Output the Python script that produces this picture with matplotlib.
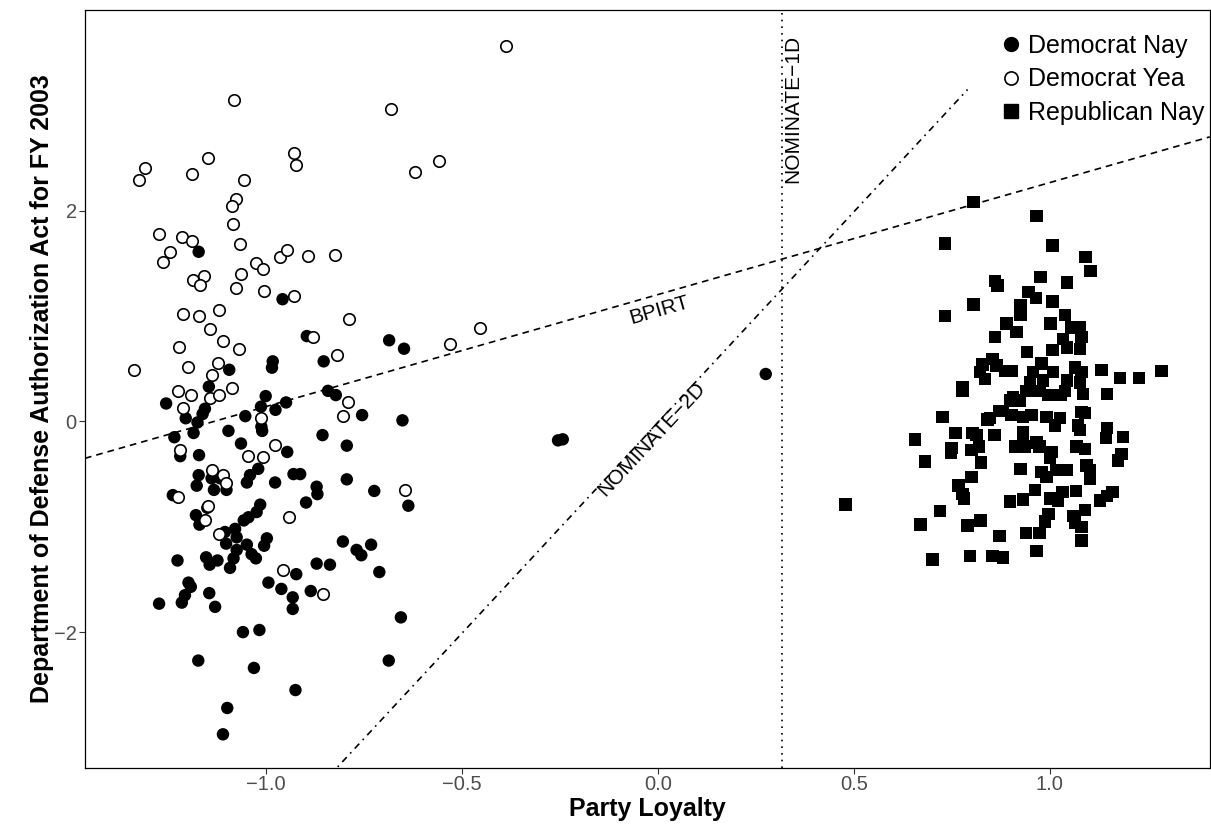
import numpy as np
import matplotlib
matplotlib.use("Agg")
import matplotlib.pyplot as plt
from matplotlib.lines import Line2D

plt.rcParams['font.family'] = ['Liberation Sans', 'DejaVu Sans']

# Democrats voting Nay: (party loyalty, ideal point on the bill dimension)
dem_nay_x = [-1.172, -0.958, -1.094, -1.146, -1.255, -1.156, -1.162, -1.205, -1.175, -1.185,
             -1.234, -1.096, -1.064, -1.053, -1.001, -0.983, -0.985, -1.013, -1.012, -1.010,
             -0.976, -0.949, -0.946, -1.219, -1.171,
             -0.896, -0.686, -0.648, -0.853, -0.842, -0.822, -0.755, -0.652, -0.856, -0.794,
             -1.172, -1.177, -1.139, -1.117, -1.133, -1.101, -1.041, -1.020, -1.049, -0.977,
             -0.930, -0.913, -1.238, -1.150, -1.179, -1.170, -1.015, -1.024, -1.045, -1.057,
             -1.105, -1.079, -1.075, -1.102, -1.049, -0.998, -1.005, -1.075, -1.083, -1.092,
             -1.037, -1.026, -1.153, -1.144, -1.124, -1.226, -0.923, -0.994, -0.961, -0.932,
             -0.932, -1.198, -1.192, -1.207, -1.215, -1.273, -1.145, -1.130,
             -0.871, -0.869, -0.794, -0.724, -0.637, -0.898, -0.804, -0.769, -0.757, -0.732,
             -0.711, -0.871, -0.837, -0.886, -0.656,
             -1.059, -1.017, -1.173, -1.031, -0.687, -0.925, -1.099, -1.110,
             0.275, -0.255, -0.243]
dem_nay_y = [1.61, 1.16, 0.49, 0.33, 0.17, 0.12, 0.07, 0.03, -0.01, -0.11,
             -0.15, -0.09, -0.21, 0.05, 0.24, 0.57, 0.51, 0.14, -0.05, -0.09,
             0.11, 0.18, -0.29, -0.33, -0.32,
             0.81, 0.77, 0.69, 0.57, 0.29, 0.25, 0.06, 0.01, -0.13, -0.23,
             -0.51, -0.61, -0.54, -0.54, -0.65, -0.65, -0.51, -0.45, -0.58, -0.58,
             -0.50, -0.50, -0.70, -0.82, -0.89, -0.98, -0.79, -0.86, -0.91, -0.94,
             -1.05, -1.02, -1.10, -1.16, -1.17, -1.11, -1.18, -1.22, -1.30, -1.39,
             -1.26, -1.30, -1.29, -1.36, -1.32, -1.32, -1.45, -1.53, -1.59, -1.67,
             -1.78, -1.53, -1.57, -1.65, -1.72, -1.73, -1.63, -1.76,
             -0.62, -0.69, -0.55, -0.66, -0.80, -0.77, -1.14, -1.22, -1.27, -1.17,
             -1.43, -1.35, -1.36, -1.61, -1.86,
             -2.00, -1.98, -2.27, -2.34, -2.27, -2.55, -2.72, -2.97,
             0.45, -0.18, -0.17]

# Democrats voting Yea
dem_yea_x = [-0.388, -1.082, -0.681, -0.929, -0.923, -0.558, -0.619, -1.309, -1.324, -1.149,
             -1.189, -1.056, -1.078, -1.087, -1.084, -1.274, -1.214, -1.188, -1.245, -1.263,
             -1.066, -1.026, -1.007, -0.964, -0.947, -0.894, -0.825, -1.187, -1.159, -1.064,
             -1.168, -1.078, -1.005, -0.930, -1.212, -1.170, -1.119, -1.142, -1.109, -1.068,
             -1.222, -1.337, -1.198, -1.123, -1.137, -1.224, -1.192, -1.086, -1.142, -1.119,
             -1.211, -1.013, -0.977, -1.219, -1.046, -1.007, -0.788, -0.881, -0.531, -0.454,
             -0.819, -0.790, -0.804, -1.139, -1.111, -1.102, -1.224, -1.147, -1.156, -0.941,
             -1.119, -0.958, -0.645, -0.856]
dem_yea_y = [3.56, 3.05, 2.97, 2.55, 2.43, 2.47, 2.37, 2.41, 2.29, 2.50,
             2.35, 2.29, 2.11, 2.04, 1.87, 1.78, 1.75, 1.71, 1.61, 1.51,
             1.68, 1.50, 1.45, 1.56, 1.63, 1.57, 1.58, 1.34, 1.38, 1.40,
             1.29, 1.27, 1.24, 1.19, 1.02, 1.00, 1.06, 0.88, 0.76, 0.69,
             0.71, 0.49, 0.52, 0.55, 0.44, 0.29, 0.25, 0.32, 0.22, 0.25,
             0.13, 0.03, -0.22, -0.27, -0.33, -0.34, 0.97, 0.80, 0.73, 0.89,
             0.63, 0.18, 0.05, -0.46, -0.51, -0.58, -0.72, -0.80, -0.94, -0.91,
             -1.07, -1.41, -0.65, -1.64]

# Republicans voting Nay
rep_nay_x = [0.805, 0.732, 0.860, 0.866, 0.805, 0.732, 0.860, 0.854, 0.828, 0.834,
             0.821, 0.777,
             0.966, 1.007, 1.091, 1.104, 0.976, 1.043, 0.945, 0.964, 1.007, 0.925,
             0.925, 1.038, 0.889, 0.915, 1.002, 1.055, 1.077, 1.034, 1.081, 0.942,
             1.007, 1.043, 1.077, 0.864, 0.885, 0.902, 0.979, 0.957, 1.008, 1.064,
             1.081, 1.132, 1.179, 1.227, 1.285, 0.949, 0.983, 1.043, 1.077, 0.940,
             0.974, 0.996, 1.038, 1.085, 1.146, 0.906,
             0.898, 0.923, 1.004, 1.029, 0.881, 0.902, 0.847, 0.932, 0.953, 0.991,
             1.026, 1.013, 1.081, 1.089, 1.072, 1.077, 1.145, 1.143, 1.186, 0.860,
             0.932, 0.932, 0.911, 0.936, 0.966, 0.974, 1.004, 1.000, 1.068, 1.089,
             1.183, 1.174, 1.093, 1.102, 1.102, 0.925, 0.979, 0.991, 1.017, 1.043,
             0.962, 0.932, 0.898, 1.000, 1.021, 1.032, 1.066, 1.128, 1.145, 1.160,
             0.996, 0.987, 1.059, 1.064, 1.081, 1.089, 0.974, 0.939, 1.081, 0.870,
             0.966, 0.855, 0.881,
             0.777, 0.726, 0.841, 0.870, 0.656, 0.759, 0.803, 0.813, 0.857, 0.749,
             0.747, 0.800, 0.819, 0.681, 0.824, 0.800, 0.767, 0.777, 0.781, 0.479,
             0.719, 0.670, 0.790, 0.823, 0.871, 0.701, 0.796, 0.854]
rep_nay_y = [2.08, 1.69, 1.33, 1.29, 1.11, 1.00, 0.80, 0.59, 0.54, 0.40,
             0.47, 0.32,
             1.95, 1.67, 1.56, 1.43, 1.37, 1.32, 1.23, 1.17, 1.14, 1.10,
             1.01, 1.01, 0.93, 0.85, 0.93, 0.89, 0.89, 0.78, 0.80, 0.66,
             0.68, 0.70, 0.69, 0.53, 0.48, 0.48, 0.55, 0.47, 0.47, 0.51,
             0.47, 0.49, 0.41, 0.41, 0.48, 0.37, 0.39, 0.39, 0.37, 0.29,
             0.29, 0.25, 0.29, 0.26, 0.26, 0.23,
             0.20, 0.20, 0.25, 0.25, 0.10, 0.06, 0.03, 0.04, 0.06, 0.04,
             0.03, -0.04, 0.09, 0.08, -0.04, -0.08, -0.06, -0.16, -0.15, -0.13,
             -0.10, -0.15, -0.24, -0.24, -0.20, -0.24, -0.29, -0.35, -0.24, -0.26,
             -0.31, -0.37, -0.42, -0.46, -0.54, -0.45, -0.48, -0.53, -0.46, -0.46,
             -0.65, -0.74, -0.76, -0.73, -0.75, -0.67, -0.66, -0.75, -0.71, -0.67,
             -0.88, -0.95, -0.90, -0.96, -1.00, -0.84, -1.06, -1.06, -1.13, -1.09,
             -1.23, -1.28, -1.29,
             0.29, 0.04, 0.02, 0.10, -0.17, -0.11, -0.11, -0.13, -0.13, -0.25,
             -0.30, -0.27, -0.24, -0.38, -0.39, -0.53, -0.61, -0.69, -0.73, -0.79,
             -0.85, -0.98, -0.99, -0.94, -1.09, -1.31, -1.28, -1.28]

# Cutting lines: BPIRT and NOMINATE-2D as (slope, intercept); NOMINATE-1D as a cut point
bpirt_slope, bpirt_intercept = 1.063, 1.204
nom2d_slope, nom2d_intercept = 4.0, -0.01
nom2d_x_end = 0.79
nom1d_cut = 0.316

x_ticks = [-1.0, -0.5, 0.0, 0.5, 1.0]
y_ticks = [-2, 0, 2]
x_limits = (-1.462, 1.408)
y_limits = (-3.29, 3.905)

fig = plt.figure(figsize=(12.11, 8.33), dpi=100)
ax = fig.add_axes([0.0702, 0.078, 0.9288, 0.910])
ax.set_xlim(*x_limits)
ax.set_ylim(*y_limits)

ax.scatter(dem_nay_x, dem_nay_y, s=80, marker='o', facecolor='black', edgecolor='none', zorder=3)
ax.scatter(dem_yea_x, dem_yea_y, s=68, marker='o', facecolor='white', edgecolor='black',
           linewidths=1.2, zorder=3)
ax.scatter(rep_nay_x, rep_nay_y, s=80, marker='s', facecolor='black', edgecolor='none', zorder=3)

# Cutting lines
xx = np.array(x_limits)
ax.plot(xx, bpirt_slope * xx + bpirt_intercept, color='black', lw=1.2,
        linestyle=(0, (4, 3)), zorder=2)
x2 = np.array([x_limits[0], nom2d_x_end])
ax.plot(x2, nom2d_slope * x2 + nom2d_intercept, color='black', lw=1.2,
        linestyle=(0, (1, 3, 4, 3)), zorder=2)
ax.axvline(nom1d_cut, color='black', lw=1.2, linestyle=(0, (1, 3)), zorder=2)


def screen_angle(slope):
    p0 = ax.transData.transform((0.0, 0.0))
    p1 = ax.transData.transform((1.0, slope))
    return np.degrees(np.arctan2(p1[1] - p0[1], p1[0] - p0[0]))


ax.text(0.003, 1.05, 'BPIRT', rotation=screen_angle(bpirt_slope), ha='center', va='center',
        rotation_mode='anchor', fontsize=15, color='black')
ax.text(-0.015, -0.17, 'NOMINATE\u22122D', rotation=screen_angle(nom2d_slope), ha='center',
        va='center', rotation_mode='anchor', fontsize=15, color='black')
ax.text(0.344, 2.97, 'NOMINATE\u22121D', rotation=90, ha='center', va='center',
        fontsize=15, color='black')

ax.set_xticks(x_ticks)
ax.set_xticklabels([f'{v:.1f}'.replace('-', '\u2212') for v in x_ticks])
ax.set_yticks(y_ticks)
ax.set_yticklabels([f'{v}'.replace('-', '\u2212') for v in y_ticks])
ax.tick_params(axis='both', direction='out', length=4, width=0.8, color='#333333',
               labelsize=14.5, labelcolor='#4D4D4D', pad=2)
ax.tick_params(axis='x', pad=1)
for sp in ax.spines.values():
    sp.set_linewidth(0.9)
    sp.set_color('black')

ax.set_xlabel('Party Loyalty', fontsize=18, fontweight='bold', labelpad=2)
ax.set_ylabel('Department of Defense Authorization Act for FY 2003', fontsize=18,
              fontweight='bold', labelpad=0)

handles = [
    Line2D([], [], marker='o', linestyle='none', markerfacecolor='black',
           markeredgecolor='black', markersize=10, label='Democrat Nay'),
    Line2D([], [], marker='o', linestyle='none', markerfacecolor='white',
           markeredgecolor='black', markeredgewidth=1.2, markersize=9.5, label='Democrat Yea'),
    Line2D([], [], marker='s', linestyle='none', markerfacecolor='black',
           markeredgecolor='black', markersize=10, label='Republican Nay'),
]
ax.legend(handles=handles, loc='upper right', bbox_to_anchor=(1.0, 0.975), frameon=False,
          fontsize=18, handletextpad=0.2, labelspacing=0.38, borderpad=0.2,
          borderaxespad=0.0, handlelength=1.0)

fig.savefig('out.png', dpi=100)
